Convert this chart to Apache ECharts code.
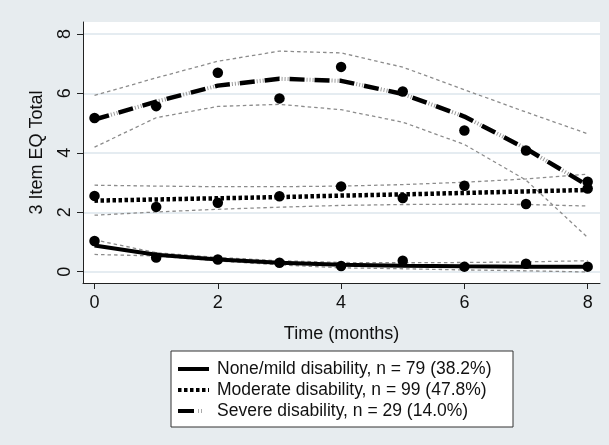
<!DOCTYPE html>
<html>
<head>
<meta charset="utf-8">
<script src="https://cdn.jsdelivr.net/npm/echarts@6/dist/echarts.min.js"></script>
<style>
html,body{margin:0;padding:0;background:#e7ecef;}
#chart{width:609px;height:445px;}
</style>
</head>
<body>
<div id="chart"></div>
<script>
// ---- data ----
var months = [0, 1, 2, 3, 4, 5, 6, 7, 8];
var xTicks = [0, 2, 4, 6, 8];
var yTicks = [0, 2, 4, 6, 8];

var legendNames = [
  'None/mild disability, n = 79 (38.2%)',
  'Moderate disability, n = 99 (47.8%)',
  'Severe disability, n = 29 (14.0%)'
];

var noneObs = [1.03, 0.48, 0.41, 0.30, 0.19, 0.37, 0.17, 0.27, 0.17];
var noneFit = [0.88, 0.57, 0.41, 0.30, 0.23, 0.20, 0.18, 0.17, 0.17];
var noneHi  = [1.07, 0.64, 0.48, 0.37, 0.31, 0.30, 0.31, 0.33, 0.37];
var noneLo  = [0.58, 0.53, 0.36, 0.23, 0.13, 0.10, 0.06, 0.03, -0.01];

var modObs = [2.55, 2.18, 2.32, 2.54, 2.87, 2.48, 2.89, 2.28, 2.80];
var modFit = [2.39, 2.43, 2.47, 2.51, 2.56, 2.60, 2.65, 2.70, 2.75];
var modHi  = [2.91, 2.88, 2.86, 2.86, 2.88, 2.93, 3.01, 3.12, 3.28];
var modLo  = [1.90, 2.01, 2.10, 2.17, 2.23, 2.26, 2.27, 2.26, 2.21];

var sevObs = [5.17, 5.57, 6.69, 5.83, 6.89, 6.06, 4.75, 4.08, 3.03];
var sevFit = [5.12, 5.72, 6.26, 6.49, 6.42, 5.98, 5.22, 4.14, 2.90];
var sevHi  = [5.93, 6.52, 7.08, 7.42, 7.36, 6.88, 6.12, 5.37, 4.64];
var sevLo  = [4.19, 5.18, 5.56, 5.63, 5.45, 5.03, 4.28, 3.08, 1.15];

function pairs(ys) { return months.map(function (m, i) { return [m, ys[i]]; }); }

var FONT = '"Liberation Sans", Arial, sans-serif';

function ciSeries(ys) {
  return {
    type: 'line', data: pairs(ys), symbol: 'none', silent: true, z: 2,
    lineStyle: { color: '#8c8c8c', width: 1.3, type: [3.5, 3] }
  };
}
function fitSeries(name, ys, style) {
  return {
    name: name, type: 'line', data: pairs(ys), symbol: 'none', silent: true, z: 3,
    lineStyle: style
  };
}
function obsSeries(ys) {
  return {
    type: 'scatter', data: pairs(ys), symbol: 'circle', symbolSize: 10.5, z: 5,
    itemStyle: { color: '#000', opacity: 1 }
  };
}

var chart = echarts.init(document.getElementById('chart'), null, { renderer: 'canvas' });

var option = {
  backgroundColor: '#e7ecef',
  animation: false,
  grid: { left: 83, right: 9, top: 22, bottom: 162, show: true, backgroundColor: '#ffffff', borderWidth: 0 },
  xAxis: {
    type: 'value', min: -0.187, max: 8.2,
    name: 'Time (months)', nameLocation: 'middle', nameGap: 42,
    nameTextStyle: { fontFamily: FONT, fontSize: 18, color: '#111' },
    axisLine: { show: true, onZero: false, lineStyle: { color: '#222', width: 1 } },
    axisTick: { show: true, length: 6, customValues: xTicks, lineStyle: { color: '#222' } },
    axisLabel: { customValues: xTicks, margin: 11, fontFamily: FONT, fontSize: 18, color: '#111' },
    splitLine: { show: false }
  },
  yAxis: {
    type: 'value', min: -0.38, max: 8.40,
    name: '3 Item EQ Total', nameLocation: 'middle', nameGap: 37, nameRotate: 90,
    nameTextStyle: { fontFamily: FONT, fontSize: 18, color: '#111' },
    axisLine: { show: true, onZero: false, lineStyle: { color: '#222', width: 1 } },
    axisTick: { show: true, length: 6, customValues: yTicks, lineStyle: { color: '#222' } },
    axisLabel: { customValues: yTicks, rotate: 90, margin: 9, fontFamily: FONT, fontSize: 18, color: '#111' },
    splitLine: { show: true, lineStyle: { color: '#dde6ec', width: 1.5 } }
  },
  series: [
    ciSeries(noneHi), ciSeries(noneLo),
    ciSeries(modHi), ciSeries(modLo),
    ciSeries(sevHi), ciSeries(sevLo),
    fitSeries(legendNames[0], noneFit, { color: '#000', width: 4 }),
    fitSeries(legendNames[1], modFit, { color: '#000', width: 4.5, type: [3.5, 2.5], cap: 'butt' }),
    fitSeries(legendNames[2], sevFit, { color: '#000', width: 4.5, type: [15, 10], cap: 'butt' }),
    {
      type: 'line', data: pairs(sevFit), symbol: 'none', silent: true, z: 3,
      lineStyle: { color: '#9a9a9a', width: 4, type: [1, 2, 1, 2, 1, 18], dashOffset: 8, cap: 'butt' }
    },
    obsSeries(noneObs), obsSeries(modObs), obsSeries(sevObs)
  ],
  graphic: [
    { type: 'rect', z: 100, shape: { x: 171, y: 351, width: 342, height: 76 },
      style: { fill: '#ffffff', stroke: '#333', lineWidth: 1 } },
    { type: 'line', z: 101, shape: { x1: 178, y1: 369, x2: 209, y2: 369 },
      style: { stroke: '#000', lineWidth: 4 } },
    { type: 'line', z: 101, shape: { x1: 178, y1: 390, x2: 209, y2: 390 },
      style: { stroke: '#000', lineWidth: 4, lineDash: [3.5, 2.5] } },
    { type: 'line', z: 101, shape: { x1: 178, y1: 411, x2: 194, y2: 411 },
      style: { stroke: '#000', lineWidth: 4 } },
    { type: 'line', z: 101, shape: { x1: 198, y1: 411, x2: 204, y2: 411 },
      style: { stroke: '#aaaaaa', lineWidth: 4, lineDash: [1, 2] } },
    { type: 'text', z: 101, x: 217, y: 369,
      style: { text: legendNames[0], font: '17.5px ' + FONT, fill: '#111', verticalAlign: 'middle' } },
    { type: 'text', z: 101, x: 217, y: 390,
      style: { text: legendNames[1], font: '17.5px ' + FONT, fill: '#111', verticalAlign: 'middle' } },
    { type: 'text', z: 101, x: 217, y: 411,
      style: { text: legendNames[2], font: '17.5px ' + FONT, fill: '#111', verticalAlign: 'middle' } }
  ]
};
chart.setOption(option);
</script>
</body>
</html>
